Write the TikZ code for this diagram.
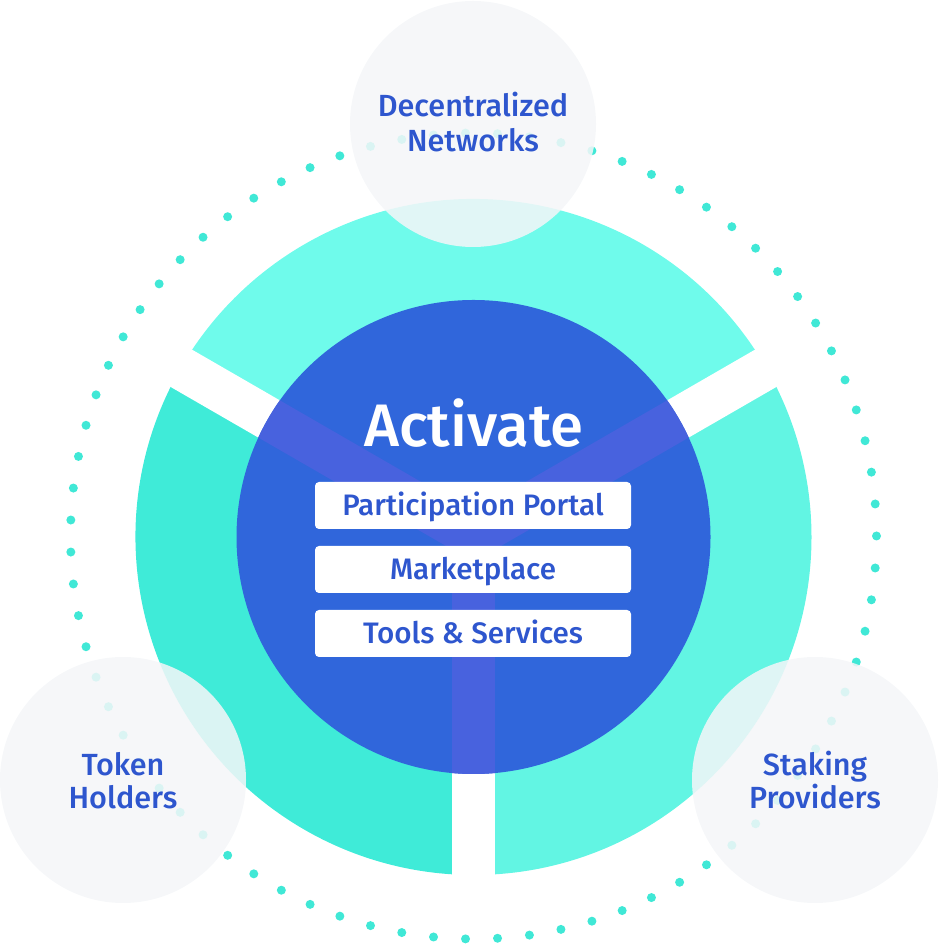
\documentclass[tikz,border=0pt]{standalone}
\usepackage{fontspec}
\setmainfont{Fira Sans Medium}
\usetikzlibrary{calc}
\definecolor{tealtop}{RGB}{111,251,235}
\definecolor{tealleft}{RGB}{63,235,216}
\definecolor{tealright}{RGB}{98,245,227}
\definecolor{actblue}{RGB}{48,102,219}
\definecolor{gapblue}{RGB}{72,98,222}
\definecolor{txtblue}{RGB}{46,86,206}
\definecolor{dotteal}{RGB}{64,232,214}
\definecolor{graycirc}{RGB}{244,246,248}
\tikzset{
  itembox/.style={fill=white, rounded corners=4pt, minimum width=316pt, minimum height=47pt,
    inner sep=0pt, text height=20pt, text depth=0pt, text=txtblue, font=\fontsize{29.6}{31}\selectfont},
  satlabel/.style={anchor=base, text=txtblue, inner sep=0pt, font=\fontsize{30.6}{34}\selectfont},
  satcirc/.style={fill=graycirc, fill opacity=0.86},
}
\begin{document}
\begin{tikzpicture}[x=1pt,y=1pt]
\useasboundingbox (0,0) rectangle (938,944);
\coordinate (C) at (473.5,407);
% dotted ring
\foreach \i in {0,...,78} {
  \fill[dotteal] ($(473.5,408)+({195.95+\i*4.557}:403)$) circle (4.5);
}
% teal sectors
\fill[tealtop] (C) -- ($(C)+(30:338)$) arc[start angle=30,end angle=150,radius=338] -- cycle;
\fill[tealleft] (C) -- ($(C)+(150:338)$) arc[start angle=150,end angle=270,radius=338] -- cycle;
\fill[tealright] (C) -- ($(C)+(270:338)$) arc[start angle=270,end angle=390,radius=338] -- cycle;
% white gaps
\foreach \a in {30,150,270} {
  \fill[white, shift={(473.5,407)}, rotate=\a] (-2,-21.5) rectangle (345,21.5);
}
% blue core
\fill[actblue] (C) circle[radius=237];
\begin{scope}
  \clip (473.5,407) circle[radius=237];
  \foreach \a in {30,150,270} {
    \fill[gapblue, shift={(473.5,407)}, rotate=\a] (-2,-21.5) rectangle (240,21.5);
  }
\end{scope}
\node[anchor=base, text=white, inner sep=0pt, font=\fontsize{60}{62}\selectfont] (act) at (474,497) {Activate};
\node[itembox] (pp) at (473,438.5) {Participation Portal};
\node[itembox] (mp) at (473,374.5) {Marketplace};
\node[itembox] (ts) at (473,310.5) {Tools \& Services};
% satellite circles
\fill[satcirc] (473,820) circle[radius=123];
\fill[satcirc] (123,164) circle[radius=123];
\fill[satcirc] (815,164) circle[radius=123];
\node[satlabel] (dn1) at (473,827) {Decentralized};
\node[satlabel] (dn2) at (473,792) {Networks};
\node[satlabel] (th1) at (123,168) {Token};
\node[satlabel] (th2) at (123,135) {Holders};
\node[satlabel] (sp1) at (815,168) {Staking};
\node[satlabel] (sp2) at (815,135) {Providers};
\end{tikzpicture}
\end{document}
